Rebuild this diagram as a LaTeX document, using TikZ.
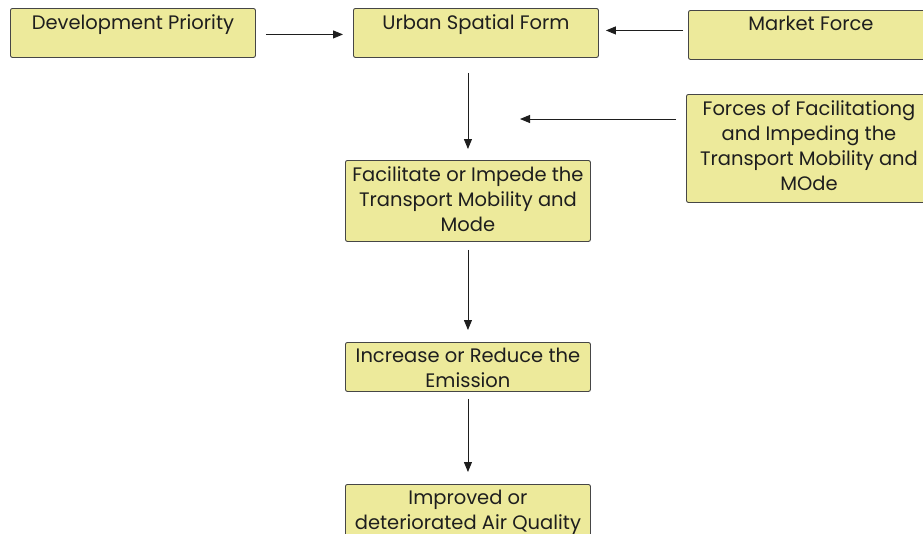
\documentclass[tikz,border=0pt]{standalone}
\usepackage{fontspec}
\setmainfont{Poppins}
\usetikzlibrary{arrows.meta}
\definecolor{boxfill}{RGB}{237,234,155}
\definecolor{boxline}{RGB}{70,70,70}
\definecolor{ink}{RGB}{30,30,30}
\tikzset{
  box/.style={draw=boxline, fill=boxfill, line width=0.9pt, rounded corners=2pt,
    minimum width=245pt, inner sep=0pt, anchor=north west},
  txt/.style={anchor=north, inner sep=0pt, align=center, text=ink,
    font=\fontsize{19.5}{25}\selectfont},
  arr/.style={draw=ink, line width=0.9pt, -{Triangle[length=10pt,width=8pt]}},
}
\begin{document}
\begin{tikzpicture}[x=1pt,y=-1pt]
\useasboundingbox (0,0) rectangle (923,533);
\clip (0,0) rectangle (923,533);
\fill[white] (0,0) rectangle (923,533);

% boxes
\node[box, minimum height=49pt]  (dp)  at (10,8)   {};
\node[box, minimum height=49pt]  (usf) at (353,8)  {};
\node[box, minimum height=49pt]  (mf)  at (688,10) {};
\node[box, minimum height=108pt] (ff)  at (686,94) {};
\node[box, minimum height=81pt]  (fac) at (345,160) {};
\node[box, minimum height=49pt]  (ir)  at (345,342) {};
\node[box, minimum height=70pt]  (aq)  at (345,484) {};

% labels
\node[txt] (dpt)  at ([yshift=-6pt]dp.north)  {Development Priority};
\node[txt] (usft) at ([yshift=-6pt]usf.north) {Urban Spatial Form};
\node[txt] (mft)  at ([yshift=-6pt]mf.north)  {Market Force};
\node[txt] (fft)  at ([yshift=-6pt]ff.north)  {Forces of Facilitationg\\and Impeding the\\Transport Mobility and\\MOde};
\node[txt] (fact) at ([yshift=-6pt]fac.north) {Facilitate or Impede the\\Transport Mobility and\\Mode};
\node[txt] (irt)  at ([yshift=-6pt]ir.north)  {Increase or Reduce the\\Emission};
\node[txt] (aqt)  at ([yshift=-6pt]aq.north)  {Improved or\\deteriorated Air Quality};

% connectors
\coordinate (ffend) at (520,119);
\draw[arr, shorten <=10pt, shorten >=10pt] ([yshift=-1.5pt]dp.east) -- ([yshift=-1.5pt]usf.west);
\draw[arr, shorten <=5pt, shorten >=7pt] ([yshift=4.5pt]mf.west) -- ([yshift=2.5pt]usf.east);
\draw[arr, shorten <=15pt, shorten >=11pt] (usf.south -| fac.north) -- (fac.north);
\draw[arr, shorten <=10pt] (ff.west |- ffend) -- (ffend);
\draw[arr, shorten <=8pt, shorten >=12pt] (fac.south) -- (ir.north);
\draw[arr, shorten <=7pt, shorten >=12pt] (ir.south) -- (aq.north);
\end{tikzpicture}
\end{document}
